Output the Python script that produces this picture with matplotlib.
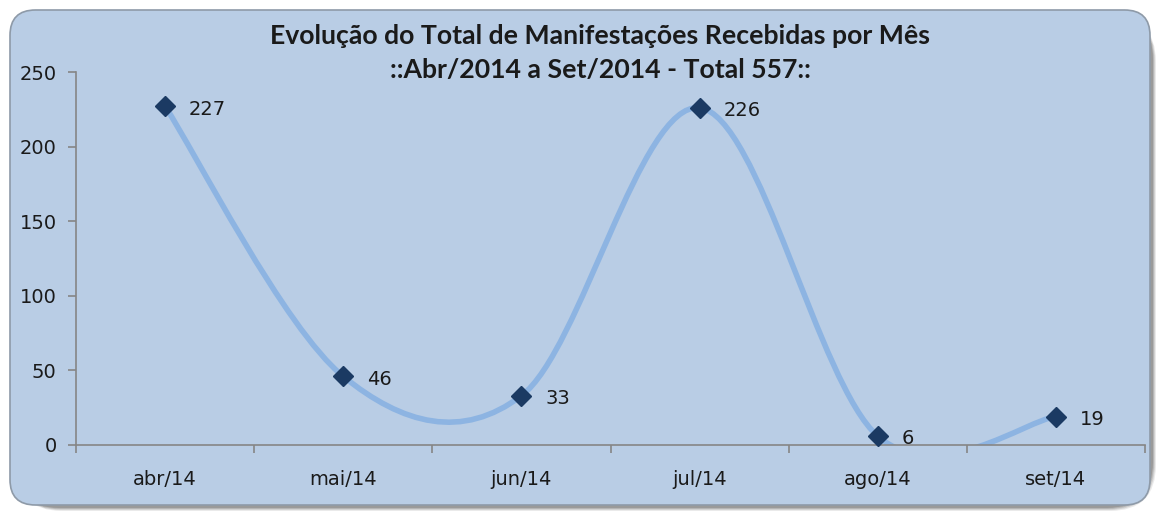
import matplotlib
matplotlib.use("Agg")
import matplotlib.pyplot as plt
from matplotlib.path import Path
from matplotlib.patches import PathPatch, FancyBboxPatch
import numpy as np

months = ["abr/14", "mai/14", "jun/14", "jul/14", "ago/14", "set/14"]
values = [227, 46, 33, 226, 6, 19]
title_lines = ["Evolução do Total de Manifestações Recebidas por Mês",
               "::Abr/2014 a Set/2014 - Total 557::"]

W, H = 1157, 514
fig = plt.figure(figsize=(W / 100, H / 100), dpi=100)
fig.patch.set_facecolor("white")

def fx(px):
    return px / W

def fy(py):
    return 1 - py / H

# shadow layers
for i, a in enumerate([0.10, 0.14, 0.18, 0.22]):
    off = 4 - i
    sh = FancyBboxPatch((fx(10 + off + 2), fy(505 + off + 2)), fx(1140), 495 / H,
                        boxstyle="round,pad=0,rounding_size=0.04",
                        transform=fig.transFigure, facecolor="#3a3a3a", edgecolor="none",
                        alpha=a, mutation_aspect=W / H, zorder=-3)
    fig.patches.append(sh)

panel = FancyBboxPatch((fx(10), fy(505)), fx(1140), 495 / H,
                       boxstyle="round,pad=0,rounding_size=0.022",
                       transform=fig.transFigure, facecolor="#B9CDE5", edgecolor="#8E9AA8",
                       linewidth=1.2, mutation_aspect=W / H, zorder=-2)
fig.patches.append(panel)

ax = fig.add_axes([fx(76), fy(445), fx(1145 - 76), (445 - 72) / H])
ax.set_facecolor("none")
ax.set_zorder(2)

x = np.arange(len(values))
y = np.array(values, dtype=float)

# Excel-style smoothed line (cubic Bezier, tension 1/6)
t = 1 / 6
verts = [(x[0], y[0])]
codes = [Path.MOVETO]
n = len(x)
for i in range(n - 1):
    p_prev = (x[max(i - 1, 0)], y[max(i - 1, 0)])
    p0 = (x[i], y[i])
    p1 = (x[i + 1], y[i + 1])
    p_next = (x[min(i + 2, n - 1)], y[min(i + 2, n - 1)])
    c1 = (p0[0] + (p1[0] - p_prev[0]) * t, p0[1] + (p1[1] - p_prev[1]) * t)
    c2 = (p1[0] - (p_next[0] - p0[0]) * t, p1[1] - (p_next[1] - p0[1]) * t)
    verts += [c1, c2, p1]
    codes += [Path.CURVE4] * 3
curve = PathPatch(Path(verts, codes), facecolor="none", edgecolor="#8DB4E2",
                  linewidth=4, capstyle="round", joinstyle="round")
ax.add_patch(curve)

ax.plot(x, y, linestyle="none", marker="D", markersize=10, color="#1B3A63",
        markeredgecolor="#1B3A63", clip_on=False, zorder=5)

for xi, yi in zip(x, y):
    ax.annotate(str(int(yi)), (xi, yi), xytext=(17, -2), textcoords="offset points",
                ha="left", va="center", fontsize=14, color="#1a1a1a",
                family="DejaVu Sans")

ax.set_xlim(-0.5, n - 0.5)
ax.set_ylim(0, 250)
ax.set_yticks([0, 50, 100, 150, 200, 250])
ax.set_xticks(np.arange(-0.5, n, 1.0))
ax.set_xticklabels([])
ax.set_xticks(x, minor=True)
ax.set_xticklabels(months, minor=True)
ax.tick_params(axis="x", which="minor", length=0, pad=18, labelsize=14, labelcolor="#1a1a1a")
ax.tick_params(axis="x", which="major", length=6, direction="out", color="#868686", width=1.2)
ax.tick_params(axis="y", length=6, direction="out", color="#868686", width=1.2,
               labelsize=14, labelcolor="#1a1a1a", pad=8)
for s in ["top", "right"]:
    ax.spines[s].set_visible(False)
for s in ["left", "bottom"]:
    ax.spines[s].set_color("#868686")
    ax.spines[s].set_linewidth(1.2)

fig.text(fx(600), fy(36), title_lines[0], ha="center", va="center",
         fontsize=19.2, fontweight="bold", family="Lato", color="#1a1a1a")
fig.text(fx(600), fy(70), title_lines[1], ha="center", va="center",
         fontsize=19.2, fontweight="bold", family="Lato", color="#1a1a1a")

fig.savefig("out.png", dpi=100, facecolor="white")
